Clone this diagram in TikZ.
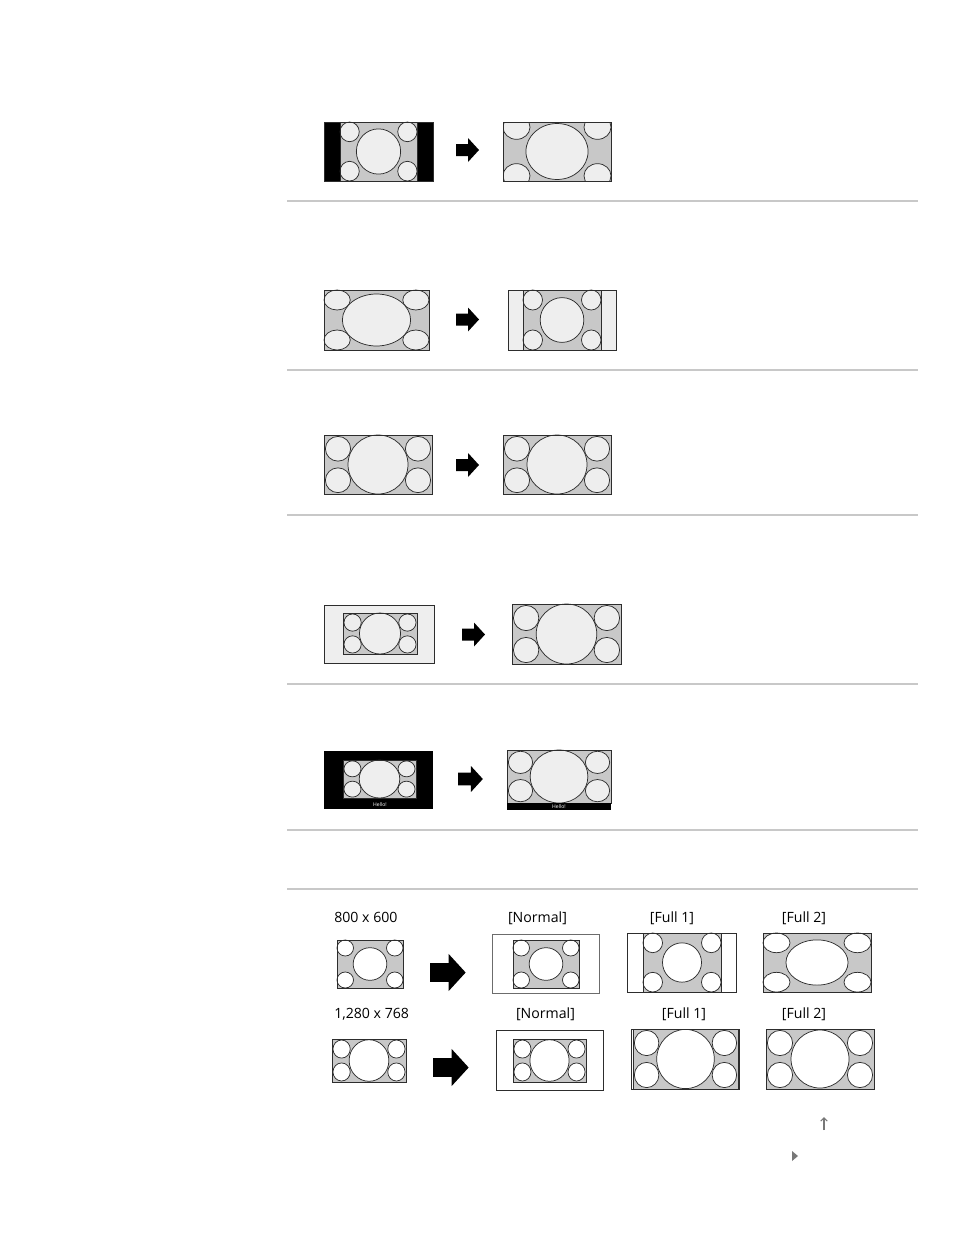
\documentclass[tikz,border=0pt]{standalone}
\usepackage{fontspec}
\setmainfont{Open Sans}
\usetikzlibrary{arrows.meta}
\definecolor{scrg}{RGB}{200,200,200}
\definecolor{scrl}{RGB}{238,238,238}
\definecolor{lin}{RGB}{45,45,45}
\definecolor{sepc}{RGB}{200,200,200}
\definecolor{navc}{RGB}{120,120,120}
\tikzset{
  circ/.style={draw=lin,line width=0.55pt},
  frame/.style={draw=lin,line width=0.6pt},
  sepline/.style={draw=sepc,line width=1.1pt},
  bigarr/.style={fill=black},
  lbl/.style={inner sep=0pt,font=\fontsize{10.6}{12}\selectfont,text=black},
  hello/.style={inner sep=0pt,font=\fontsize{3.8}{4}\selectfont,text=white}
}
% 4:3 content mapped to rectangle (x0,y0)-(x1,y1); #5 big radius; #6 circle fill
\newcommand{\cA}[6]{%
\pgfmathsetmacro\tcx{(#1+#3)/2}%
\pgfmathsetmacro\tcy{(#2+#4)/2}%
\pgfmathsetmacro\tsx{(#3-#1)/4}%
\pgfmathsetmacro\tsy{(#4-#2)/3}%
\begin{scope}[shift={(\tcx,\tcy)},xscale=\tsx,yscale=\tsy]
\fill[scrg] (-2,-1.5) rectangle (2,1.5);
\foreach \px/\py in {-1.5/-1,1.5/-1,-1.5/1,1.5/1}
  \draw[circ,fill=#6] (\px,\py) circle[radius=0.5];
\draw[circ,fill=#6] (0,0) circle[radius=#5];
\draw[frame] (-2,-1.5) rectangle (2,1.5);
\end{scope}}
% wide content
\newcommand{\cB}[6]{%
\pgfmathsetmacro\tcx{(#1+#3)/2}%
\pgfmathsetmacro\tcy{(#2+#4)/2}%
\pgfmathsetmacro\tsx{(#3-#1)/5.4}%
\pgfmathsetmacro\tsy{(#4-#2)/3}%
\begin{scope}[shift={(\tcx,\tcy)},xscale=\tsx,yscale=\tsy]
\fill[scrg] (-2.7,-1.5) rectangle (2.7,1.5);
\foreach \px/\py in {-2.0/-0.8,2.0/-0.8,-2.0/0.8,2.0/0.8}
  \draw[circ,fill=#6] (\px,\py) circle[radius=0.63];
\draw[circ,fill=#6] (0,0) circle[radius=#5];
\draw[frame] (-2.7,-1.5) rectangle (2.7,1.5);
\end{scope}}
% arrow: x0, cy, scale (1 = 23px long)
\newcommand{\barr}[3]{%
\begin{scope}[shift={(#1,#2)},scale=#3]
\fill[black] (0,-6) -- (12,-6) -- (12,-12) -- (23,0) -- (12,12) -- (12,6) -- (0,6) -- cycle;
\end{scope}}
\begin{document}
\begin{tikzpicture}[x=0.75pt,y=-0.75pt]
\useasboundingbox (0,0) rectangle (954,1235);
\fill[white] (0,0) rectangle (954,1235);

% separators
\foreach \yy in {201,370,515,684,830,889}
  \draw[sepline] (287,\yy) -- (918,\yy);

% Row 1
\fill[black] (324,122) rectangle (433,181);
\cA{340}{122}{417}{181}{1.15}{scrl}
\draw[frame] (324,122) rectangle (433,181);
\barr{456}{150}{1}
\begin{scope}
\clip (503,122) rectangle (611,181);
\cA{503}{115}{611}{188}{1.15}{scrl}
\end{scope}
\draw[frame] (503,122) rectangle (611,181);

% Row 2
\cA{324}{290}{429}{350}{1.3}{scrl}
\barr{456}{319.5}{1}
\draw[frame,fill=scrl] (508,290) rectangle (616,350);
\cA{523}{290}{601}{350}{1.12}{scrl}

% Row 3
\cB{324}{435}{432}{494}{1.5}{scrl}
\barr{456}{465}{1}
\cB{503}{435}{611}{494}{1.5}{scrl}

% Row 4
\draw[frame,fill=scrl] (324,605) rectangle (434,663);
\cB{343}{613}{417}{654}{1.5}{scrl}
\barr{462}{634.5}{1}
\cB{512}{604}{621}{664}{1.5}{scrl}

% Row 5
\fill[black] (324,751) rectangle (433,809);
\cB{343}{760}{416}{798}{1.5}{scrl}
\node[hello] (h1) at (380,804.5) {Hello!};
\barr{458}{779}{1.08}
\cB{507}{750}{611}{803}{1.5}{scrl}
\fill[black] (507,803) rectangle (611,810);
\node[hello] (h2) at (559,806.5) {Hello!};

% Bottom section labels
\node[lbl,anchor=base west] (l1) at (334,922) {800 x 600};
\node[lbl,anchor=base] (l2) at (537.5,922) {[Normal]};
\node[lbl,anchor=base] (l3) at (672,922) {[Full 1]};
\node[lbl,anchor=base] (l4) at (804,922) {[Full 2]};
\node[lbl,anchor=base west] (l5) at (334,1018) {1,280 x 768};
\node[lbl,anchor=base] (l6) at (545.5,1018) {[Normal]};
\node[lbl,anchor=base] (l7) at (684,1018) {[Full 1]};
\node[lbl,anchor=base] (l8) at (804,1018) {[Full 2]};

% Bottom row 1
\cA{337}{940}{403}{988}{1.02}{white}
\barr{430}{972.5}{1.55}
\draw[frame,draw=lin!70,fill=white] (492,934) rectangle (599,993);
\cA{513}{940}{579}{988}{1.02}{white}
\draw[frame,fill=white] (627,933) rectangle (736,992);
\cA{643}{933}{721}{992}{1.0}{white}
\cA{763}{933}{871}{992}{1.15}{white}

% Bottom row 2
\cB{332}{1039}{406}{1082}{1.45}{white}
\barr{433}{1067.5}{1.55}
\draw[frame,fill=white] (496,1030) rectangle (603,1090);
\cB{513}{1039}{586}{1082}{1.45}{white}
\draw[frame,fill=white] (631,1029) rectangle (739,1089);
\cB{633}{1029}{738}{1089}{1.48}{white}
\cB{766}{1029}{874}{1089}{1.45}{white}

% navigation marks
\coordinate (ua) at (824,1130);
\coordinate (ub) at (824,1117);
\draw[navc,line width=0.8pt,-{Straight Barb[length=2.5pt,width=5pt]}] (ua) -- (ub);
\fill[navc] (792,1151) -- (798,1156) -- (792,1161) -- cycle;
\end{tikzpicture}
\end{document}
